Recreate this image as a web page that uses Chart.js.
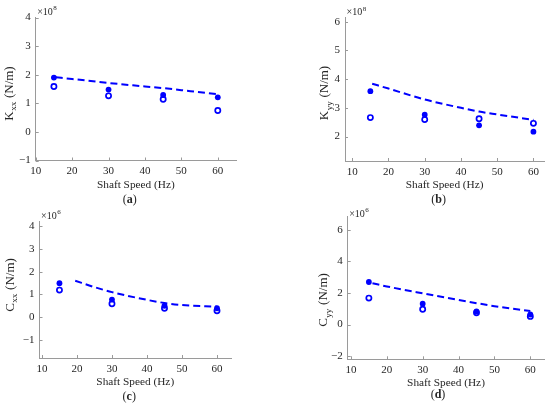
<!DOCTYPE html>
<html><head><meta charset="utf-8">
<script src="https://cdn.jsdelivr.net/npm/chart.js@4.4.1/dist/chart.umd.min.js"></script>
<style>
html,body{margin:0;padding:0;background:#fff;}
#wrap{position:relative;width:550px;height:403px;overflow:hidden;background:#fff;}
canvas{position:absolute;}
.pre{position:absolute;left:-1000px;top:-1000px;font-family:"Liberation Serif";}
</style></head><body>
<div id="wrap">
<canvas id="ca" width="275" height="206" style="left:0;top:0;width:275px;height:206px"></canvas>
<canvas id="cb" width="275" height="206" style="left:275px;top:0;width:275px;height:206px"></canvas>
<canvas id="cc" width="275" height="203" style="left:0;top:200px;width:275px;height:203px"></canvas>
<canvas id="cd" width="275" height="203" style="left:275px;top:200px;width:275px;height:203px"></canvas>
</div>
<span class="pre">Shaft <b>Speed</b></span>
<script>
// ---- data ----
const speeds = [15, 30, 45, 60];
const xTicks = [10, 20, 30, 40, 50, 60];

// (a) Kxx  (x10^8 N/m)
const kxxFilled = [1.90, 1.48, 1.29, 1.21];
const kxxOpen   = [1.59, 1.26, 1.14, 0.75];
const kxxFitX   = [15.5, 20, 30, 40, 45, 50, 60];
const kxxFitY   = [1.91, 1.85, 1.71, 1.59, 1.53, 1.46, 1.32];
const kxxTicks  = [-1, 0, 1, 2, 3, 4];

// (b) Kyy  (x10^8 N/m)
const kyyFilled = [3.58, 2.76, 2.39, 2.17];
const kyyOpen   = [2.66, 2.59, 2.62, 2.46];
const kyyFitX   = [15.5, 20, 30, 40, 45, 50, 60];
const kyyFitY   = [3.84, 3.67, 3.29, 3.00, 2.87, 2.77, 2.58];
const kyyTicks  = [2, 3, 4, 5, 6];

// (c) Cxx  (x10^6)
const cxxFilled = [1.49, 0.77, 0.50, 0.39];
const cxxOpen   = [1.19, 0.59, 0.39, 0.28];
const cxxFitX   = [19.5, 25, 30, 40, 45, 50, 60];
const cxxFitY   = [1.60, 1.32, 1.10, 0.76, 0.62, 0.53, 0.46];
const cxxTicks  = [-1, 0, 1, 2, 3, 4];

// (d) Cyy  (x10^6)
const cyyFilled = [2.70, 1.32, 0.83, 0.64];
const cyyOpen   = [1.68, 0.97, 0.75, 0.52];
const cyyFitX   = [16, 20, 30, 40, 45, 50, 60];
const cyyFitY   = [2.62, 2.42, 1.98, 1.56, 1.36, 1.17, 0.86];
const cyyTicks  = [-2, 0, 2, 4, 6];

// ---- style ----
const BLUE = '#0000ff';
const AXIS = '#9a9a9a';
const TXT = '#262626';
const SERIF = '"Liberation Serif", "Times New Roman", "DejaVu Serif", serif';

const decor = {
  id: 'decor',
  afterDraw(chart, args, o) {
    const ctx = chart.ctx, a = chart.chartArea, xs = chart.scales.x, ys = chart.scales.y;
    ctx.save();
    ctx.strokeStyle = AXIS; ctx.lineWidth = 1;
    ctx.beginPath();
    xs.ticks.forEach(t => { const p = Math.round(xs.getPixelForValue(t.value)) + 0.5; ctx.moveTo(p, a.bottom); ctx.lineTo(p, a.bottom - 3); });
    ys.ticks.forEach(t => { const p = Math.round(ys.getPixelForValue(t.value)) + 0.5; ctx.moveTo(a.left, p); ctx.lineTo(a.left + 3, p); });
    ctx.stroke();
    ctx.fillStyle = TXT;
    ctx.textBaseline = 'alphabetic'; ctx.textAlign = 'left';
    ctx.font = '10px ' + SERIF;
    ctx.fillText('\u00d710', a.left + 1.5, o.expoY);
    const w10 = ctx.measureText('\u00d710').width;
    ctx.font = '7px ' + SERIF;
    ctx.fillText(o.expo, a.left + 1.5 + w10 + 0.5, o.expoY - 4.5);
    ctx.font = '11.3px ' + SERIF; ctx.textAlign = 'center';
    const cx = (a.left + a.right) / 2;
    ctx.fillText('Shaft Speed (Hz)', cx, a.bottom + 27);
    ctx.font = '12px ' + SERIF; ctx.textAlign = 'left';
    const w1 = ctx.measureText('(').width;
    ctx.font = 'bold 12px ' + SERIF;
    const w2 = ctx.measureText(o.panel).width;
    ctx.font = '12px ' + SERIF;
    const w3 = ctx.measureText(')').width;
    let lx = cx + o.panelDx - (w1 + w2 + w3) / 2;
    ctx.fillText('(', lx, o.panelY); lx += w1;
    ctx.font = 'bold 12px ' + SERIF; ctx.fillText(o.panel, lx, o.panelY); lx += w2;
    ctx.font = '12px ' + SERIF; ctx.fillText(')', lx, o.panelY);
    ctx.translate(o.titleX, o.titleY);
    ctx.rotate(-Math.PI / 2);
    ctx.font = '13px ' + SERIF;
    const m1 = ctx.measureText(o.main).width;
    const m3 = ctx.measureText(' (N/m)').width;
    ctx.font = '9px ' + SERIF;
    const m2 = ctx.measureText(o.sub).width;
    let tx = -(m1 + m2 + m3 + 1) / 2;
    ctx.font = '13px ' + SERIF; ctx.fillText(o.main, tx, 0); tx += m1 + 0.5;
    ctx.font = '9px ' + SERIF; ctx.fillText(o.sub, tx, 3.5); tx += m2 + 0.5;
    ctx.font = '13px ' + SERIF; ctx.fillText(' (N/m)', tx, 0);
    ctx.restore();
  }
};

function pts(xv, yv) { return xv.map((v, i) => ({ x: v, y: yv[i] })); }
function fmt(v) { return v < 0 ? '\u2212' + Math.abs(v) : String(v); }

function makeChart(id, p) {
  const cv = document.getElementById(id);
  const W = cv.width, H = cv.height;
  return new Chart(cv, {
    type: 'scatter',
    data: {
      datasets: [
        { type: 'line', data: pts(p.fitX, p.fitY), borderColor: BLUE, borderWidth: 2, borderDash: [7, 4],
          pointRadius: 0, fill: false, cubicInterpolationMode: 'monotone', tension: 0.4 },
        { type: 'scatter', data: pts(speeds, p.filled), pointRadius: 2.9, backgroundColor: BLUE, borderColor: BLUE, borderWidth: 0 },
        { type: 'scatter', data: pts(speeds, p.open), pointRadius: 2.6, backgroundColor: 'rgba(255,255,255,0)', borderColor: BLUE, borderWidth: 1.7 }
      ]
    },
    options: {
      responsive: false, animation: false, devicePixelRatio: 1,
      layout: { padding: { left: 0, top: p.area.t, right: W - p.area.r, bottom: 0 } },
      plugins: { legend: { display: false }, tooltip: { enabled: false },
        decor: { expo: p.expo, expoY: p.expoY, panel: p.panel, panelY: p.panelY, panelDx: p.panelDx,
                 main: p.main, sub: p.sub, titleX: p.titleX, titleY: p.titleY } },
      scales: {
        x: { type: 'linear', min: p.xr[0], max: p.xr[1],
          grid: { display: false, drawTicks: false }, border: { display: true, color: AXIS, width: 1 },
          afterBuildTicks: s => { s.ticks = xTicks.map(v => ({ value: v })); },
          afterFit: s => { s.height = H - p.area.b; },
          ticks: { padding: 4.5, color: TXT, font: { family: SERIF, size: 11 }, maxRotation: 0, autoSkip: false, callback: fmt } },
        y: { type: 'linear', min: p.yr[0], max: p.yr[1],
          grid: { display: false, drawTicks: false }, border: { display: true, color: AXIS, width: 1 },
          afterBuildTicks: s => { s.ticks = p.yTicks.map(v => ({ value: v })); },
          afterFit: s => { s.width = p.area.l; },
          ticks: { padding: 5, color: TXT, font: { family: SERIF, size: 11 }, autoSkip: false, callback: fmt } }
      }
    },
    plugins: [decor]
  });
}

function buildAll() {
  makeChart('ca', { filled: kxxFilled, open: kxxOpen, fitX: kxxFitX, fitY: kxxFitY, yTicks: kxxTicks,
    area: { l: 35.7, t: 17.5, r: 236, b: 160.5 }, xr: [10, 65], yr: [-1, 4],
    expo: '8', expoY: 14.5, panel: 'a', panelY: 202.5, panelDx: -6, main: 'K', sub: 'xx', titleX: 12.5, titleY: 93.5 });
  makeChart('cb', { filled: kyyFilled, open: kyyOpen, fitX: kyyFitX, fitY: kyyFitY, yTicks: kyyTicks,
    area: { l: 70, t: 17.3, r: 270.7, b: 161 }, xr: [8, 63], yr: [1.15, 6.15],
    expo: '8', expoY: 15.2, panel: 'b', panelY: 202.5, panelDx: -6, main: 'K', sub: 'yy', titleX: 53, titleY: 93 });
  makeChart('cc', { filled: cxxFilled, open: cxxOpen, fitX: cxxFitX, fitY: cxxFitY, yTicks: cxxTicks,
    area: { l: 39.5, t: 21.7, r: 231, b: 158 }, xr: [9.3, 64], yr: [-1.8, 4.2],
    expo: '6', expoY: 18.5, panel: 'c', panelY: 200, panelDx: -6, main: 'C', sub: 'xx', titleX: 13.5, titleY: 85 });
  makeChart('cd', { filled: cyyFilled, open: cyyOpen, fitX: cyyFitX, fitY: cyyFitY, yTicks: cyyTicks,
    area: { l: 72.7, t: 16.7, r: 270, b: 159.3 }, xr: [9.1, 63.9], yr: [-2.2, 6.84],
    expo: '6', expoY: 16.8, panel: 'd', panelY: 197.5, panelDx: -8, main: 'C', sub: 'yy', titleX: 52, titleY: 100 });
}

const fontReady = (document.fonts && document.fonts.load)
  ? Promise.all([document.fonts.load('11px "Liberation Serif"'), document.fonts.load('bold 12px "Liberation Serif"')])
  : Promise.resolve();
let built = false;
function go() { if (!built) { built = true; buildAll(); } }
Promise.race([fontReady, new Promise(r => setTimeout(r, 800))]).then(go, go);
</script>
</body></html>
